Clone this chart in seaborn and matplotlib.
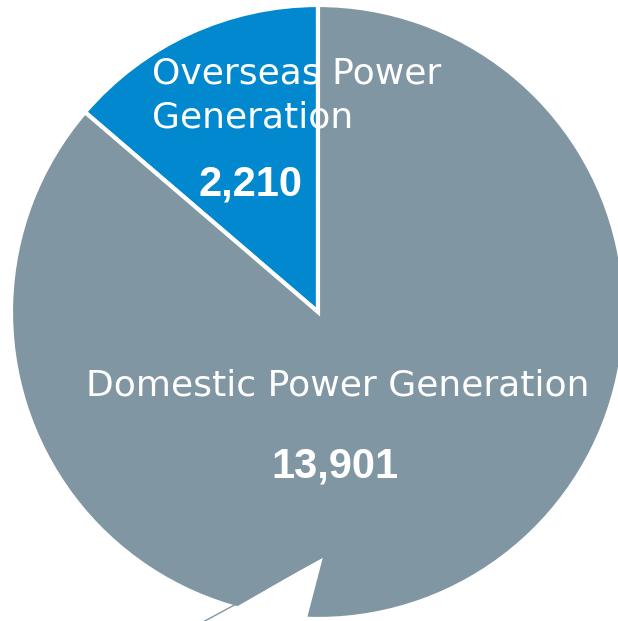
import matplotlib
matplotlib.use("Agg")
import matplotlib.pyplot as plt
import seaborn as sns

categories = ["Overseas Power Generation", "Domestic Power Generation"]
values = [2210, 13901]
value_labels = ["2,210", "13,901"]
colors = ["#0288CF", "#8096A3"]

sns.set_theme(style="white")
plt.rcParams["font.family"] = ["DejaVu Sans"]

W, H = 618, 621
fig = plt.figure(figsize=(W / 100, H / 100), dpi=100)
ax = fig.add_axes([0, 0, 1, 1])

cx, cy, r = 318, H - 312, 307
ax.pie(values, colors=colors, startangle=90, counterclock=True,
       center=(cx, cy), radius=r, frame=True,
       wedgeprops=dict(edgecolor="white", linewidth=3))
ax.set_xlim(0, W)
ax.set_ylim(0, H)
ax.set_aspect("equal")
ax.axis("off")

# speech-bubble tail (decoration)
tail = plt.Polygon([(323, H - 557), (203, H - 621 - 5), (305, H - 621 - 5)],
                   closed=True, facecolor="white", edgecolor="none", zorder=5)
ax.add_patch(tail)
ax.plot([323, 203], [H - 557, H - 622], color="#8096A3", lw=1, zorder=6)

# labels
ax.text(152, H - 83, "Overseas Power", color="white", fontsize=26,
        ha="left", va="baseline", zorder=7)
ax.text(152, H - 128, "Generation", color="white", fontsize=26,
        ha="left", va="baseline", zorder=7)
ax.text(250, H - 196, value_labels[0], color="white", fontsize=30,
        fontweight="bold", family=["Liberation Sans"], ha="center",
        va="baseline", zorder=7)
ax.text(338, H - 396, "Domestic Power Generation", color="white", fontsize=26,
        ha="center", va="baseline", zorder=7)
ax.text(335, H - 477, value_labels[1], color="white", fontsize=30,
        fontweight="bold", family=["Liberation Sans"], ha="center",
        va="baseline", zorder=7)

fig.savefig("out.png", dpi=100, facecolor="white")
